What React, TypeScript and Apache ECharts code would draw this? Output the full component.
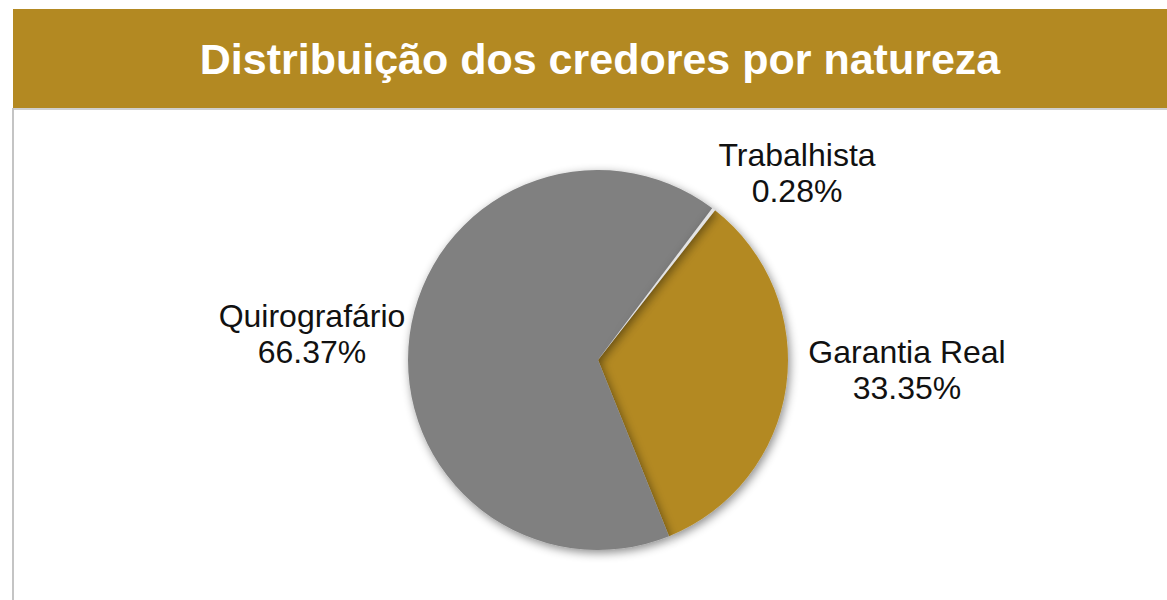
import React, { useEffect, useRef } from "react";
import * as echarts from "echarts";

const titleText = "Distribuição dos credores por natureza";
const categories = ["Garantia Real", "Quirografário", "Trabalhista"];
const values = [33.35, 66.37, 0.28];
const colors = ["#b38922", "#808080", "#e4e4e4"];
const labelCenters: [number, number][] = [
  [907, 370],
  [312, 334],
  [797, 173],
];

export default function App() {
  const ref = useRef<HTMLDivElement>(null);
  useEffect(() => {
    if (!ref.current) return;
    const chart = echarts.init(ref.current, undefined, { renderer: "svg" });
    chart.setOption({
      animation: false,
      backgroundColor: "#ffffff",
      graphic: [
        {
          type: "rect",
          shape: { x: 13, y: 9, width: 1154, height: 99 },
          style: { fill: "#b38922" },
          z: 1,
        },
        {
          type: "rect",
          shape: { x: 13, y: 108, width: 1154, height: 2 },
          style: { fill: "#cfcfcf" },
          z: 1,
        },
        {
          type: "rect",
          shape: { x: 12, y: 108, width: 2, height: 492 },
          style: { fill: "#c4c4c4" },
          z: 1,
        },
        {
          type: "text",
          x: 600,
          y: 59,
          style: {
            text: titleText,
            fill: "#ffffff",
            font: "bold 43px 'Liberation Sans', Arial, sans-serif",
            align: "center",
            verticalAlign: "middle",
          },
          z: 2,
        },
      ],
      series: [
        {
          type: "pie",
          center: [598, 360],
          radius: 190,
          startAngle: 52,
          clockwise: true,
          avoidLabelOverlap: false,
          data: categories.map((name, i) => ({
            name,
            value: values[i],
            itemStyle: { color: colors[i] },
          })),
          itemStyle: {
            shadowBlur: 10,
            shadowColor: "rgba(0,0,0,0.45)",
            shadowOffsetX: 2,
            shadowOffsetY: 3,
          },
          label: {
            show: true,
            position: "outside",
            formatter: (p: any) => `${p.name}\n${p.value.toFixed(2)}%`,
            fontFamily: "'Liberation Sans', Arial, sans-serif",
            fontSize: 32,
            lineHeight: 36,
            color: "#111111",
            align: "center",
          },
          labelLine: { show: false },
          labelLayout: (p: any) => ({
            x: labelCenters[p.dataIndex][0],
            y: labelCenters[p.dataIndex][1],
            align: "center",
            verticalAlign: "middle",
          }),
          emphasis: { disabled: true },
        },
      ],
    });
    return () => chart.dispose();
  }, []);
  return (
    <div
      ref={ref}
      style={{ position: "fixed", left: 0, top: 0, width: 1167, height: 600 }}
    />
  );
}
